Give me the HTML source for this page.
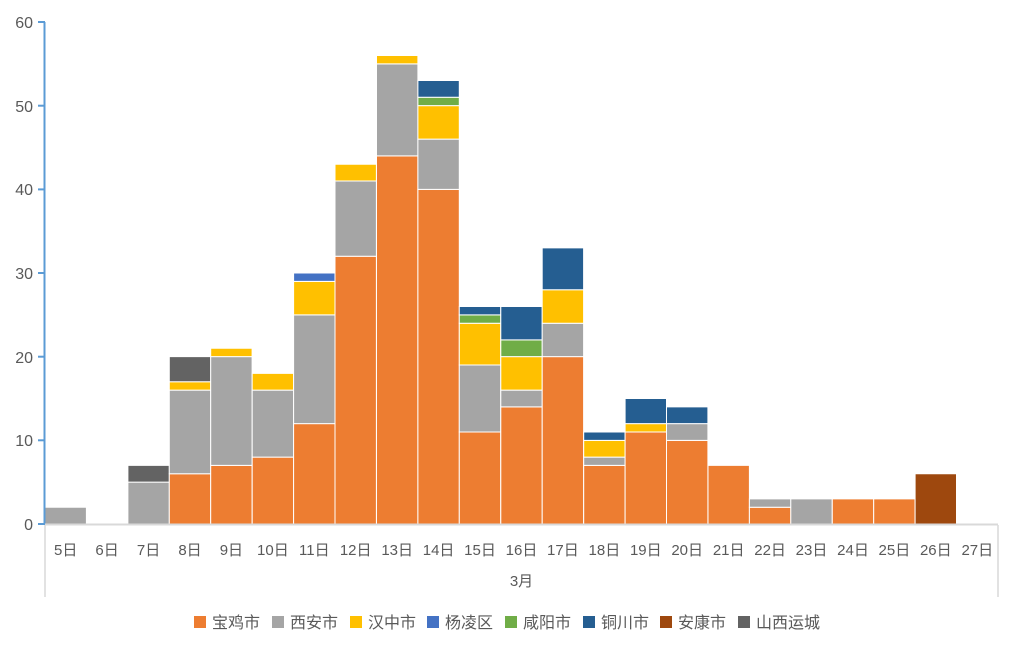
<!DOCTYPE html>
<html><head><meta charset="utf-8"><style>
body{margin:0;background:#fff;}
text{font-family:"Liberation Sans","Noto Sans CJK SC",sans-serif;fill:#595959;}
</style></head><body>
<svg width="1020" height="652" viewBox="0 0 1020 652" xmlns="http://www.w3.org/2000/svg">
<g transform="translate(0,524) scale(1,-8.367)" stroke="#fff" stroke-width="1" vector-effect="non-scaling-stroke">
<!-- 5 -->
<rect x="45" y="0" width="41.4" height="2" fill="#A5A5A5" vector-effect="non-scaling-stroke"/>
<!-- 7 -->
<rect x="127.9" y="0" width="41.4" height="5" fill="#A5A5A5" vector-effect="non-scaling-stroke"/>
<rect x="127.9" y="5" width="41.4" height="2" fill="#636363" vector-effect="non-scaling-stroke"/>
<!-- 8 -->
<rect x="169.3" y="0" width="41.4" height="6" fill="#ED7D31" vector-effect="non-scaling-stroke"/>
<rect x="169.3" y="6" width="41.4" height="10" fill="#A5A5A5" vector-effect="non-scaling-stroke"/>
<rect x="169.3" y="16" width="41.4" height="1" fill="#FFC000" vector-effect="non-scaling-stroke"/>
<rect x="169.3" y="17" width="41.4" height="3" fill="#636363" vector-effect="non-scaling-stroke"/>
<!-- 9 -->
<rect x="210.7" y="0" width="41.4" height="7" fill="#ED7D31" vector-effect="non-scaling-stroke"/>
<rect x="210.7" y="7" width="41.4" height="13" fill="#A5A5A5" vector-effect="non-scaling-stroke"/>
<rect x="210.7" y="20" width="41.4" height="1" fill="#FFC000" vector-effect="non-scaling-stroke"/>
<!-- 10 -->
<rect x="252.2" y="0" width="41.4" height="8" fill="#ED7D31" vector-effect="non-scaling-stroke"/>
<rect x="252.2" y="8" width="41.4" height="8" fill="#A5A5A5" vector-effect="non-scaling-stroke"/>
<rect x="252.2" y="16" width="41.4" height="2" fill="#FFC000" vector-effect="non-scaling-stroke"/>
<!-- 11 -->
<rect x="293.6" y="0" width="41.4" height="12" fill="#ED7D31" vector-effect="non-scaling-stroke"/>
<rect x="293.6" y="12" width="41.4" height="13" fill="#A5A5A5" vector-effect="non-scaling-stroke"/>
<rect x="293.6" y="25" width="41.4" height="4" fill="#FFC000" vector-effect="non-scaling-stroke"/>
<rect x="293.6" y="29" width="41.4" height="1" fill="#4472C4" vector-effect="non-scaling-stroke"/>
<!-- 12 -->
<rect x="335" y="0" width="41.4" height="32" fill="#ED7D31" vector-effect="non-scaling-stroke"/>
<rect x="335" y="32" width="41.4" height="9" fill="#A5A5A5" vector-effect="non-scaling-stroke"/>
<rect x="335" y="41" width="41.4" height="2" fill="#FFC000" vector-effect="non-scaling-stroke"/>
<!-- 13 -->
<rect x="376.5" y="0" width="41.4" height="44" fill="#ED7D31" vector-effect="non-scaling-stroke"/>
<rect x="376.5" y="44" width="41.4" height="11" fill="#A5A5A5" vector-effect="non-scaling-stroke"/>
<rect x="376.5" y="55" width="41.4" height="1" fill="#FFC000" vector-effect="non-scaling-stroke"/>
<!-- 14 -->
<rect x="417.9" y="0" width="41.4" height="40" fill="#ED7D31" vector-effect="non-scaling-stroke"/>
<rect x="417.9" y="40" width="41.4" height="6" fill="#A5A5A5" vector-effect="non-scaling-stroke"/>
<rect x="417.9" y="46" width="41.4" height="4" fill="#FFC000" vector-effect="non-scaling-stroke"/>
<rect x="417.9" y="50" width="41.4" height="1" fill="#70AD47" vector-effect="non-scaling-stroke"/>
<rect x="417.9" y="51" width="41.4" height="2" fill="#255E91" vector-effect="non-scaling-stroke"/>
<!-- 15 -->
<rect x="459.3" y="0" width="41.4" height="11" fill="#ED7D31" vector-effect="non-scaling-stroke"/>
<rect x="459.3" y="11" width="41.4" height="8" fill="#A5A5A5" vector-effect="non-scaling-stroke"/>
<rect x="459.3" y="19" width="41.4" height="5" fill="#FFC000" vector-effect="non-scaling-stroke"/>
<rect x="459.3" y="24" width="41.4" height="1" fill="#70AD47" vector-effect="non-scaling-stroke"/>
<rect x="459.3" y="25" width="41.4" height="1" fill="#255E91" vector-effect="non-scaling-stroke"/>
<!-- 16 -->
<rect x="500.8" y="0" width="41.4" height="14" fill="#ED7D31" vector-effect="non-scaling-stroke"/>
<rect x="500.8" y="14" width="41.4" height="2" fill="#A5A5A5" vector-effect="non-scaling-stroke"/>
<rect x="500.8" y="16" width="41.4" height="4" fill="#FFC000" vector-effect="non-scaling-stroke"/>
<rect x="500.8" y="20" width="41.4" height="2" fill="#70AD47" vector-effect="non-scaling-stroke"/>
<rect x="500.8" y="22" width="41.4" height="4" fill="#255E91" vector-effect="non-scaling-stroke"/>
<!-- 17 -->
<rect x="542.2" y="0" width="41.4" height="20" fill="#ED7D31" vector-effect="non-scaling-stroke"/>
<rect x="542.2" y="20" width="41.4" height="4" fill="#A5A5A5" vector-effect="non-scaling-stroke"/>
<rect x="542.2" y="24" width="41.4" height="4" fill="#FFC000" vector-effect="non-scaling-stroke"/>
<rect x="542.2" y="28" width="41.4" height="5" fill="#255E91" vector-effect="non-scaling-stroke"/>
<!-- 18 -->
<rect x="583.7" y="0" width="41.4" height="7" fill="#ED7D31" vector-effect="non-scaling-stroke"/>
<rect x="583.7" y="7" width="41.4" height="1" fill="#A5A5A5" vector-effect="non-scaling-stroke"/>
<rect x="583.7" y="8" width="41.4" height="2" fill="#FFC000" vector-effect="non-scaling-stroke"/>
<rect x="583.7" y="10" width="41.4" height="1" fill="#255E91" vector-effect="non-scaling-stroke"/>
<!-- 19 -->
<rect x="625.1" y="0" width="41.4" height="11" fill="#ED7D31" vector-effect="non-scaling-stroke"/>
<rect x="625.1" y="11" width="41.4" height="1" fill="#FFC000" vector-effect="non-scaling-stroke"/>
<rect x="625.1" y="12" width="41.4" height="3" fill="#255E91" vector-effect="non-scaling-stroke"/>
<!-- 20 -->
<rect x="666.5" y="0" width="41.4" height="10" fill="#ED7D31" vector-effect="non-scaling-stroke"/>
<rect x="666.5" y="10" width="41.4" height="2" fill="#A5A5A5" vector-effect="non-scaling-stroke"/>
<rect x="666.5" y="12" width="41.4" height="2" fill="#255E91" vector-effect="non-scaling-stroke"/>
<!-- 21 -->
<rect x="708" y="0" width="41.4" height="7" fill="#ED7D31" vector-effect="non-scaling-stroke"/>
<!-- 22 -->
<rect x="749.4" y="0" width="41.4" height="2" fill="#ED7D31" vector-effect="non-scaling-stroke"/>
<rect x="749.4" y="2" width="41.4" height="1" fill="#A5A5A5" vector-effect="non-scaling-stroke"/>
<!-- 23 -->
<rect x="790.8" y="0" width="41.4" height="3" fill="#A5A5A5" vector-effect="non-scaling-stroke"/>
<!-- 24,25 -->
<rect x="832.3" y="0" width="41.4" height="3" fill="#ED7D31" vector-effect="non-scaling-stroke"/>
<rect x="873.7" y="0" width="41.4" height="3" fill="#ED7D31" vector-effect="non-scaling-stroke"/>
<!-- 26 -->
<rect x="915.1" y="0" width="41.4" height="6" fill="#9E480E" vector-effect="non-scaling-stroke"/>
</g>
<!-- axes -->
<line x1="44.5" y1="22" x2="44.5" y2="525" stroke="#5B9BD5" stroke-width="2"/>
<g stroke="#5B9BD5" stroke-width="2">
<line x1="38" y1="22" x2="45" y2="22"/><line x1="38" y1="105.7" x2="45" y2="105.7"/>
<line x1="38" y1="189.4" x2="45" y2="189.4"/><line x1="38" y1="273" x2="45" y2="273"/>
<line x1="38" y1="356.7" x2="45" y2="356.7"/><line x1="38" y1="440.3" x2="45" y2="440.3"/>
<line x1="38" y1="524" x2="45" y2="524"/>
</g>
<line x1="45" y1="524.5" x2="998" y2="524.5" stroke="#D9D9D9" stroke-width="2"/>
<line x1="45" y1="525" x2="45" y2="597" stroke="#D9D9D9" stroke-width="1.5"/>
<line x1="998" y1="525" x2="998" y2="597" stroke="#D9D9D9" stroke-width="1.5"/>
<g font-size="16" text-anchor="end">
<text x="33" y="28">60</text><text x="33" y="112">50</text><text x="33" y="195">40</text>
<text x="33" y="279">30</text><text x="33" y="363">20</text><text x="33" y="446">10</text>
<text x="33" y="530">0</text>
</g>
<g font-size="15" text-anchor="middle">
<text x="65.7" y="555">5日</text><text x="107.1" y="555">6日</text><text x="148.6" y="555">7日</text>
<text x="190" y="555">8日</text><text x="231.4" y="555">9日</text><text x="272.9" y="555">10日</text>
<text x="314.3" y="555">11日</text><text x="355.7" y="555">12日</text><text x="397.2" y="555">13日</text>
<text x="438.6" y="555">14日</text><text x="480" y="555">15日</text><text x="521.5" y="555">16日</text>
<text x="562.9" y="555">17日</text><text x="604.4" y="555">18日</text><text x="645.8" y="555">19日</text>
<text x="687.2" y="555">20日</text><text x="728.7" y="555">21日</text><text x="770.1" y="555">22日</text>
<text x="811.5" y="555">23日</text><text x="853" y="555">24日</text><text x="894.4" y="555">25日</text>
<text x="935.8" y="555">26日</text><text x="977.3" y="555">27日</text>
<text x="521.5" y="586">3月</text>
</g>
<g font-size="16">
<rect x="194" y="616" width="12" height="12" fill="#ED7D31"/><text x="212" y="628">宝鸡市</text>
<rect x="272" y="616" width="12" height="12" fill="#A5A5A5"/><text x="290" y="628">西安市</text>
<rect x="350" y="616" width="12" height="12" fill="#FFC000"/><text x="368" y="628">汉中市</text>
<rect x="427" y="616" width="12" height="12" fill="#4472C4"/><text x="445" y="628">杨凌区</text>
<rect x="505" y="616" width="12" height="12" fill="#70AD47"/><text x="523" y="628">咸阳市</text>
<rect x="583" y="616" width="12" height="12" fill="#255E91"/><text x="601" y="628">铜川市</text>
<rect x="660" y="616" width="12" height="12" fill="#9E480E"/><text x="678" y="628">安康市</text>
<rect x="738" y="616" width="12" height="12" fill="#636363"/><text x="756" y="628">山西运城</text>
</g>
</svg>
</body></html>
